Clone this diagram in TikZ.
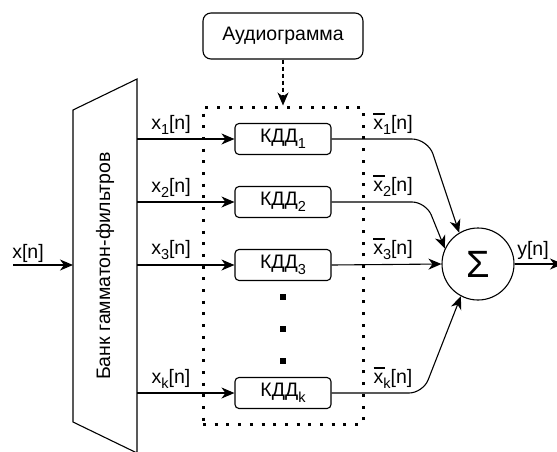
\documentclass[tikz,border=0pt]{standalone}
\usepackage{fontspec}
\setmainfont{Liberation Sans}
\usetikzlibrary{arrows.meta}
\newcommand\xb{\leavevmode\rlap{\raisebox{0.74em}{\rule{0.6em}{0.065em}}}x}
\newcommand\sbs[1]{\raisebox{-0.28em}{\fontsize{14.5}{15}\selectfont #1}}
\begin{document}
\begin{tikzpicture}[x=1pt,y=-1pt,line width=1.1pt,
  arr/.style={-{Stealth[length=13pt,width=11pt,inset=4pt]}},
  txt/.style={font=\fontsize{19.5}{22}\selectfont},
  kdd/.style={draw,rounded corners=4pt,minimum width=96pt,minimum height=31pt,inner sep=0pt,txt},
  lbl/.style={inner sep=0pt,txt},
  dotbox/.style={draw,line width=3pt,dash pattern=on 3pt off 8.7pt,minimum width=160pt,minimum height=317pt,inner sep=0pt},
  sq/.style={fill,minimum size=6pt,inner sep=0pt}]
\clip (0,0) rectangle (557,451);
% filter bank trapezoid
\draw (73,110) -- (137,79) -- (137,453) -- (73,422) -- cycle;
\node[lbl,rotate=90] (bank) at (105,266) {Банк гамматон-фильтров};
\coordinate (tin) at (73,265);
\coordinate (src) at (13,265);
\draw[arr] (src) -- (tin);
\node[lbl] (lx) at (28,253) {x[n]};
% audiogram and group
\node[draw,rounded corners=8pt,minimum width=160pt,minimum height=46pt,inner sep=0pt,txt] (aud) at (283,36) {Аудиограмма};
\node[dotbox] (grp) at (283,265.5) {};
\draw[arr,dash pattern=on 4pt off 3pt] (aud.south) -- (grp.north);
% KDD blocks
\node[kdd] (k1) at (283,139) {КДД\sbs{1}};
\node[kdd] (k2) at (283,202) {КДД\sbs{2}};
\node[kdd] (k3) at (283,265) {КДД\sbs{3}};
\node[kdd] (kk) at (283,393) {КДД\sbs{k}};
\node[sq] (d1) at (283,297) {};
\node[sq] (d2) at (283,329) {};
\node[sq] (d3) at (283,361) {};
% inputs
\coordinate (o1) at (137,139);
\coordinate (o2) at (137,202);
\coordinate (o3) at (137,265);
\coordinate (ok) at (137,393);
\draw[arr] (o1) -- (k1.west);
\draw[arr] (o2) -- (k2.west);
\draw[arr] (o3) -- (k3.west);
\draw[arr] (ok) -- (kk.west);
\node[lbl] at (171,125) {x\sbs{1}[n]};
\node[lbl] at (171,188) {x\sbs{2}[n]};
\node[lbl] at (171,250) {x\sbs{3}[n]};
\node[lbl] at (171,379) {x\sbs{k}[n]};
% summator
\node[draw,circle,minimum size=72pt,inner sep=0pt,font=\fontsize{38}{40}\selectfont] (s) at (478,264) {Σ};
\draw[arr,rounded corners=16pt] (k1.east) -- (428,139) -- (s.121);
\draw[arr,rounded corners=14pt] (k2.east) -- (426,202) -- (s.155);
\draw[arr] (k3.east) -- (s.west);
\draw[arr,rounded corners=14pt] (kk.east) -- (423,393) -- (s.242);
\node[lbl] at (393,124) {\xb\sbs{1}[n]};
\node[lbl] at (393,186) {\xb\sbs{2}[n]};
\node[lbl] at (393,249) {\xb\sbs{3}[n]};
\node[lbl] at (393,378) {\xb\sbs{k}[n]};
\coordinate (yout) at (563,264);
\draw[arr] (s.east) -- (yout);
\node[lbl] (ly) at (533,250) {y[n]};
\end{tikzpicture}
\end{document}
